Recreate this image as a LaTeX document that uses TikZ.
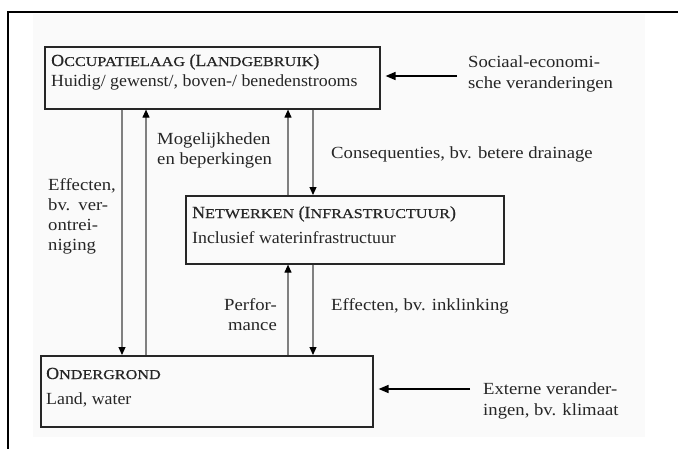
\documentclass[tikz,border=0pt]{standalone}
\usepackage{fontspec}
\setmainfont{Liberation Serif}[FakeStretch=1.05]
\newfontfamily\lblfont{Liberation Serif}[FakeStretch=1.1]
\newfontfamily\titlefont{Liberation Serif}[FakeStretch=1.05, FakeBold=0.6]
\newfontfamily\smcapfont{Liberation Serif}[FakeStretch=1.2, FakeBold=0.6]
\usetikzlibrary{arrows.meta,calc}
% imitation small capitals: full-size initial, reduced capitals after it
\newcommand{\fakesc}[2]{{\titlefont\fontsize{17}{20}\selectfont #1}{\smcapfont\fontsize{13.5}{20}\selectfont #2}}
\begin{document}
\begin{tikzpicture}[x=1pt,y=-1pt,
  font=\fontsize{17}{20}\selectfont,
  box/.style={draw=black!85, line width=1.6pt, inner sep=0pt, anchor=north west},
  lbl/.style={inner sep=0pt, anchor=base west, text=black!85},
  note/.style={lbl, font=\lblfont\fontsize{17}{20}\selectfont},
  noter/.style={note, anchor=base east},
  link/.style={draw=black!50, line width=1.1pt, -{Triangle[width=7pt,length=8pt,color=black]}},
  side/.style={draw=black, line width=1.6pt, -{Triangle[width=8pt,length=10pt]}}]
\useasboundingbox (0,0) rectangle (678,448);
\fill[black!2] (33,14) rectangle (645,437);
% outer frame (top and left edges)
\draw[line width=2.5pt] (8,452) -- (8,12) -- (682,12);

% the three layers
\node[box, minimum width=335pt, minimum height=62pt] (occ) at (44,46) {};
\node[box, minimum width=318pt, minimum height=68pt] (net) at (185,195) {};
\node[box, minimum width=332pt, minimum height=71pt] (ond) at (40,355) {};

\node[lbl] (occT) at (51,66) {\fakesc{O}{CCUPATIELAAG} {\titlefont(}\fakesc{L}{ANDGEBRUIK}{\titlefont)}};
\node[lbl] (occS) at (51,86) {Huidig/ gewenst/, boven-/ benedenstrooms};
\node[lbl] (netT) at (192,218) {\fakesc{N}{ETWERKEN} {\titlefont(}\fakesc{I}{NFRASTRUCTUUR}{\titlefont)}};
\node[lbl] (netS) at (192,243) {Inclusief waterinfrastructuur};
\node[lbl] (ondT) at (46,379) {\fakesc{O}{NDERGROND}};
\node[lbl] (ondS) at (46,404) {Land, water};

% interactions between the layers
\draw[link] ([xshift=78pt]occ.south west) -- ([xshift=82pt]ond.north west);
\draw[link] ([xshift=106pt]ond.north west) -- ([xshift=102pt]occ.south west);
\draw[link] ([xshift=103pt]net.north west) -- ([xshift=244pt]occ.south west);
\draw[link] ([xshift=269pt]occ.south west) -- ([xshift=128pt]net.north west);
\draw[link] ([xshift=248pt]ond.north west) -- ([xshift=103pt]net.south west);
\draw[link] ([xshift=128pt]net.south west) -- ([xshift=273pt]ond.north west);

% external drivers
\coordinate (socEnd) at (457,76);
\draw[side, shorten >=5pt] (socEnd) -- (socEnd -| occ.east);
\coordinate (extEnd) at (470,389);
\draw[side, shorten >=5pt] (extEnd) -- (extEnd -| ond.east);

\node[note] (soc1) at (468,67) {Sociaal-economi-};
\node[note] (soc2) at (468,88) {sche veranderingen};
\node[note] (ext1) at (483,394) {Externe verander-};
\node[note] (ext2) at (483,415) {ingen, bv. klimaat};

% labels along the connectors
\node[note] (eff1) at (48,190) {Effecten,};
\node[note] (eff2) at (48,210) {\hbox to 60pt{bv.\hfill ver-}};
\node[note] (eff3) at (48,230) {ontrei-};
\node[note] (eff4) at (48,250) {niging};
\node[note] (mog1) at (157,144) {Mogelijkheden};
\node[note] (mog2) at (157,164) {en beperkingen};
\node[note] (cons) at (331,158) {Consequenties, bv. betere drainage};
\node[noter] (perf1) at (277,310) {Perfor-};
\node[noter] (perf2) at (277,330) {mance};
\node[note] (inkl) at (331,310) {Effecten, bv. inklinking};
\end{tikzpicture}
\end{document}
